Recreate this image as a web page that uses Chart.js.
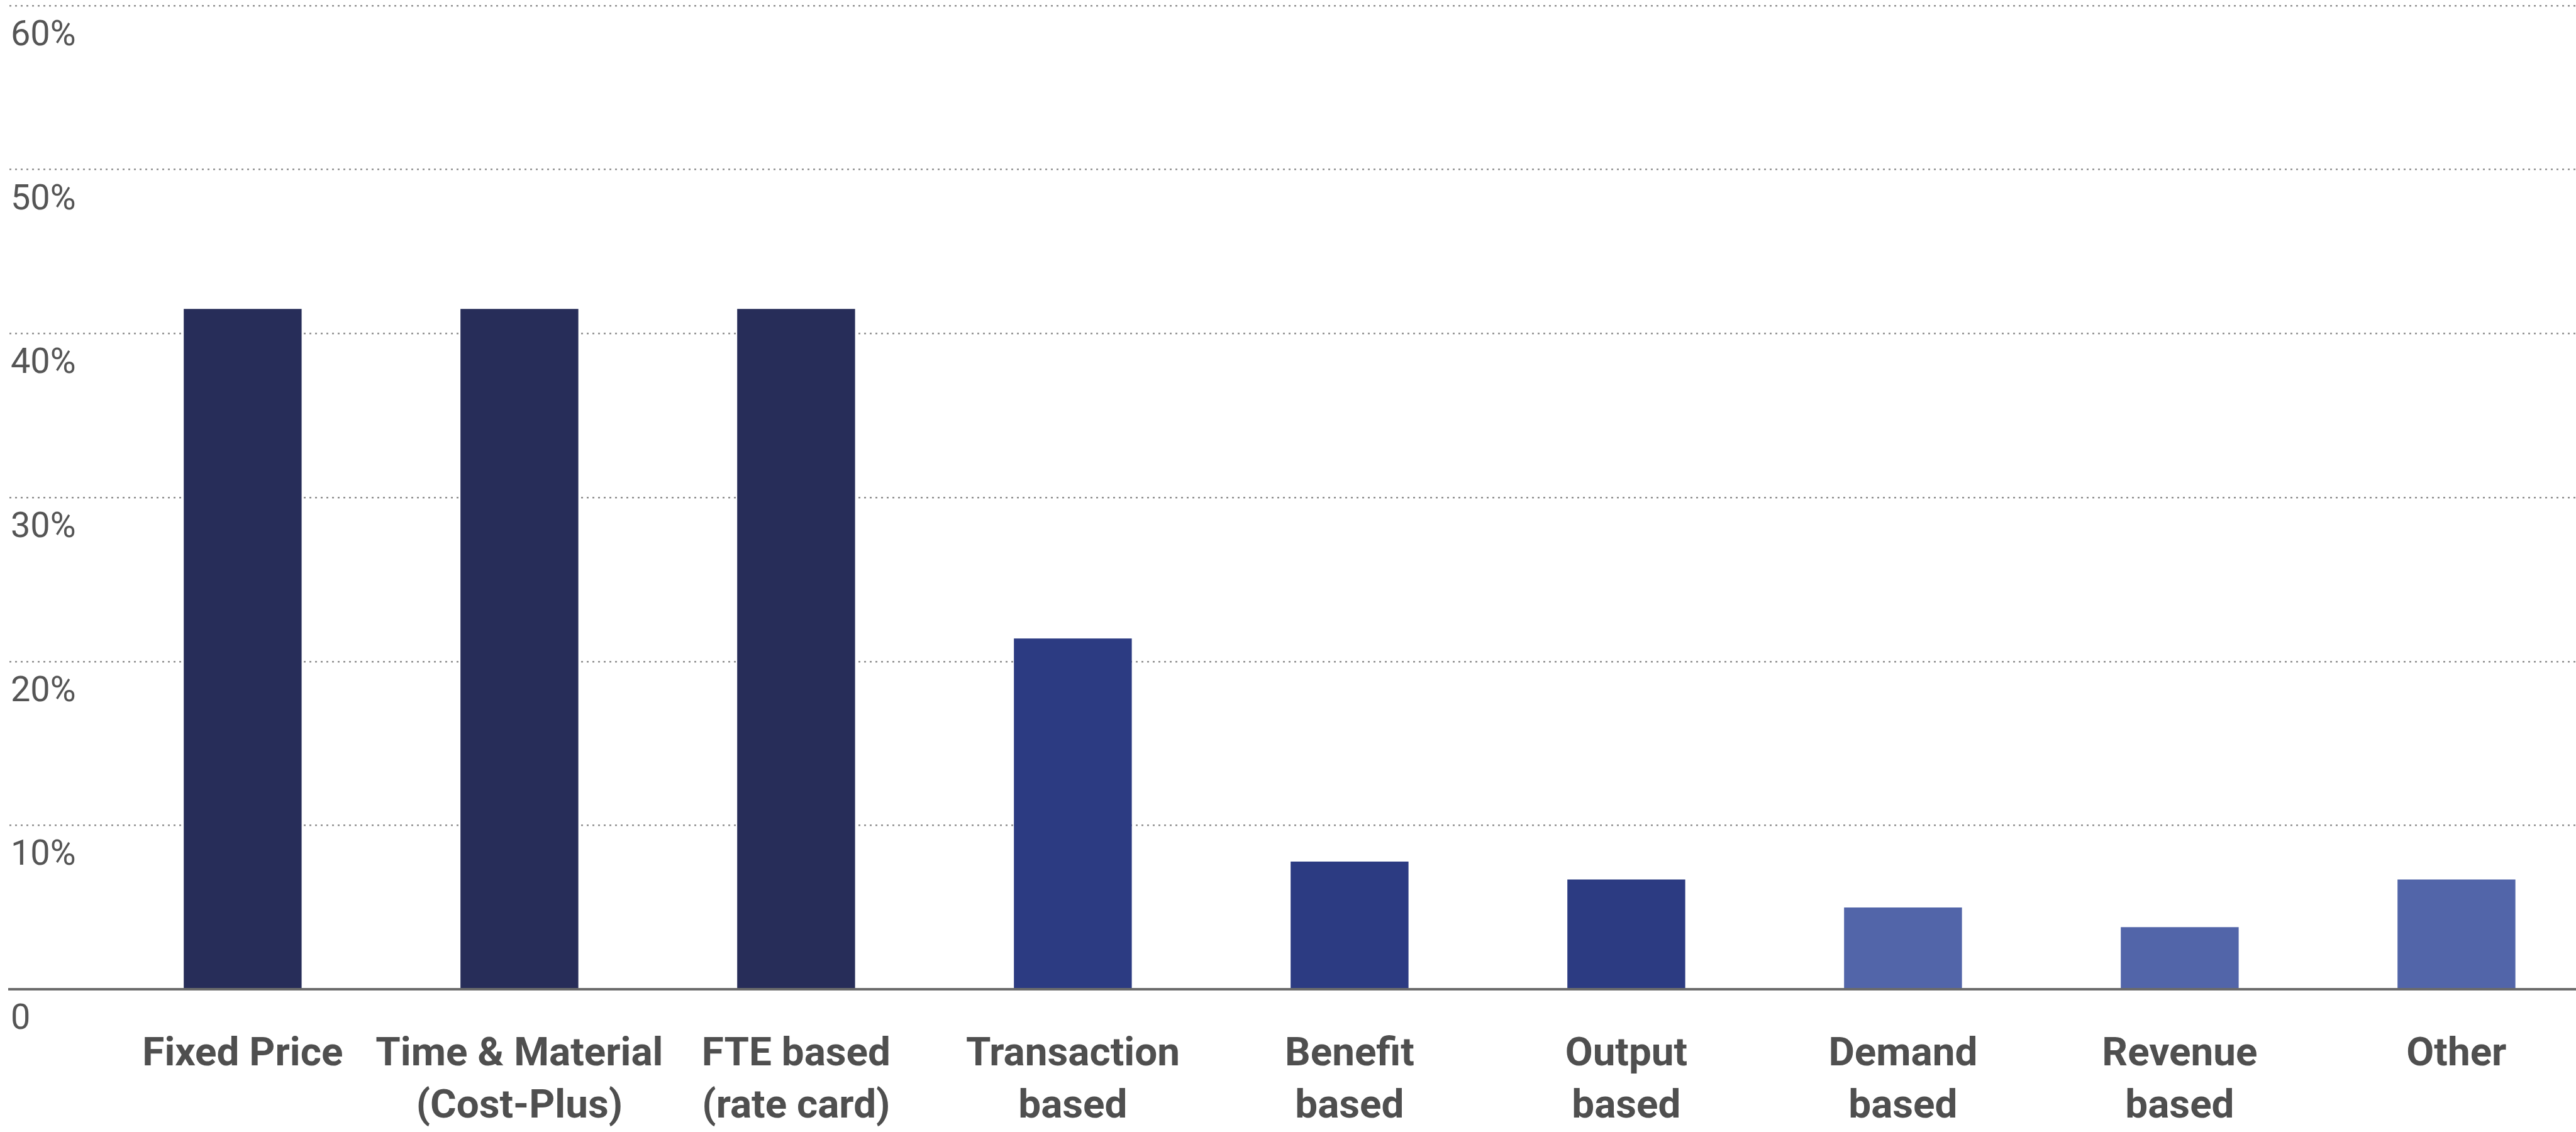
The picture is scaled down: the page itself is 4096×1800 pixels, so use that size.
<!DOCTYPE html>
<html>
<head>
<meta charset="utf-8">
<title>Pricing models</title>
<style>
  html, body { margin: 0; padding: 0; background: #ffffff; }
  canvas { display: block; }
</style>
</head>
<body>
<canvas id="pricingChart" width="4096" height="1800"></canvas>

<script src="https://cdn.jsdelivr.net/npm/chart.js"></script>
<script>
    // Categories (each label split into its printed lines)
    var categories = [
        ['Fixed Price'],
        ['Time & Material', '(Cost-Plus)'],
        ['FTE based', '(rate card)'],
        ['Transaction', 'based'],
        ['Benefit', 'based'],
        ['Output', 'based'],
        ['Demand', 'based'],
        ['Revenue', 'based'],
        ['Other']
    ];

    // Share of respondents, in percent
    var shares = [41.5, 41.5, 41.5, 21.4, 7.8, 6.7, 5.0, 3.8, 6.7];

    // Y axis ticks
    var yTicks = [0, 10, 20, 30, 40, 50, 60];

    var barColors = [
        '#272d59', '#272d59', '#272d59',
        '#2c3b82', '#2c3b82', '#2c3b82',
        '#5265a9', '#5265a9', '#5265a9'
    ];

    var S = 0.997; // overall scale of the drawing

    var points = categories.map(function (c, i) {
        return { x: i, y: shares[i] };
    });

    var ctx = document.getElementById('pricingChart').getContext('2d');
    Chart.defaults.font.family = 'Roboto';

    var myBarChart = new Chart(ctx, {
        type: 'bar',
        data: {
            datasets: [{
                data: points,
                backgroundColor: barColors,
                borderWidth: 0,
                barPercentage: 0.426,
                categoryPercentage: 1
            }]
        },
        options: {
            responsive: false,
            devicePixelRatio: 1,
            animation: false,
            layout: { padding: { left: 15 * S, top: 9 * S, right: 0, bottom: 0 } },
            plugins: {
                legend: { display: false },
                tooltip: { enabled: false }
            },
            scales: {
                x: {
                    type: 'linear',
                    bounds: 'data',
                    offset: false,
                    min: -0.843,
                    max: 8.432,
                    grid: { display: false, drawTicks: false, offset: false },
                    border: { display: true, color: '#6b6b6b', width: 4 * S, z: 1 },
                    afterBuildTicks: function (scale) {
                        scale.ticks = categories.map(function (c, i) { return { value: i }; });
                    },
                    afterFit: function (scale) {
                        scale.height = 1800 - 1578 * S;
                        scale.paddingLeft = 0;
                        scale.paddingRight = 0;
                    },
                    ticks: {
                        autoSkip: false,
                        maxRotation: 0,
                        minRotation: 0,
                        padding: 64 * S,
                        color: '#4f4f4f',
                        font: { size: 64 * S, weight: 'bold', lineHeight: 1.3 },
                        callback: function (value) {
                            return categories[value];
                        }
                    }
                },
                y: {
                    min: 0,
                    max: 60,
                    grid: {
                        drawTicks: false,
                        lineWidth: 2.5,
                        borderDash: [3, 6],
                        color: function (c) {
                            return c.tick && c.tick.value === 0 ? 'rgba(0,0,0,0)' : '#8f8f8f';
                        }
                    },
                    border: { display: false, dash: [3, 6] },
                    afterBuildTicks: function (scale) {
                        scale.ticks = yTicks.map(function (v) { return { value: v }; });
                    },
                    afterFit: function (scale) {
                        scale.width = 0;
                        scale.paddingTop = 0;
                        scale.paddingBottom = 0;
                    },
                    ticks: {
                        mirror: true,
                        padding: 2,
                        labelOffset: 49 * S,
                        color: '#555555',
                        font: { size: 56 * S },
                        callback: function (value) {
                            return value === 0 ? '0' : value + '%';
                        }
                    }
                }
            }
        }
    });
</script>
</body>
</html>
